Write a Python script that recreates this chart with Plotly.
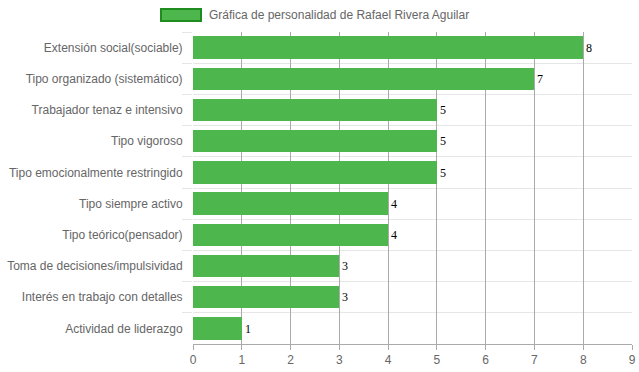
import plotly.graph_objects as go

categories = [
    "Extensión social(sociable)",
    "Tipo organizado (sistemático)",
    "Trabajador tenaz e intensivo",
    "Tipo vigoroso",
    "Tipo emocionalmente restringido",
    "Tipo siempre activo",
    "Tipo teórico(pensador)",
    "Toma de decisiones/impulsividad",
    "Interés en trabajo con detalles",
    "Actividad de liderazgo",
]
values = [8, 7, 5, 5, 5, 4, 4, 3, 3, 1]
series_name = "Gráfica de personalidad de Rafael Rivera Aguilar"
x_ticks = [0, 1, 2, 3, 4, 5, 6, 7, 8, 9]

positions = list(range(len(categories)))

fig = go.Figure()
fig.add_trace(go.Bar(
    x=values, y=positions, orientation="h", width=0.72,
    marker=dict(color="#4DB64D", line=dict(width=0)),
    text=[str(v) for v in values], textposition="outside",
    textfont=dict(family="Liberation Serif", size=12, color="#000"),
    cliponaxis=False, name=series_name, showlegend=False,
))

fig.update_layout(
    template="none",
    width=639, height=372,
    margin=dict(l=193, r=7, t=32, b=28, autoexpand=False),
    paper_bgcolor="white", plot_bgcolor="white",
    font=dict(family="Liberation Sans, Arial", size=12, color="#666"),
    bargap=0,
    xaxis=dict(
        range=[0, 9], tickvals=x_ticks, showgrid=True, automargin=False,
        gridcolor="#aaaaaa", gridwidth=1, zeroline=False,
        showline=True, linecolor="#aaaaaa", ticks="outside", ticklen=5,
        tickcolor="#aaaaaa", tickfont=dict(size=12, color="#666"),
    ),
    yaxis=dict(
        range=[len(categories) - 0.5, -0.5], automargin=False,
        tickvals=positions, ticktext=categories,
        showgrid=False, zeroline=False, showline=False,
        ticks="outside", ticklen=7, tickcolor="rgba(0,0,0,0)",
        tickfont=dict(size=12, color="#666"),
        minor=dict(tickvals=[p - 0.5 for p in positions], showgrid=True,
                   gridcolor="#e6e6e6", ticks="outside", ticklen=10,
                   tickcolor="#e6e6e6"),
    ),
)

# legend drawn as decoration
fig.add_shape(type="rect", xref="paper", yref="paper",
              x0=-(193 - 161) / 439, x1=-(193 - 201) / 439,
              y0=(372 - 28 - 21) / 312, y1=(372 - 28 - 9) / 312,
              fillcolor="#4DB64D", line=dict(color="#1E8C1E", width=2))
fig.add_annotation(text=series_name, xref="paper", yref="paper",
                   x=(207 - 193) / 439, y=(372 - 28 - 15) / 312,
                   xanchor="left", yanchor="middle", showarrow=False,
                   font=dict(size=12, color="#666"))

fig.write_html("out.html", config={"displayModeBar": False},
               post_script="document.body.style.margin='0';document.body.style.overflow='hidden';")
